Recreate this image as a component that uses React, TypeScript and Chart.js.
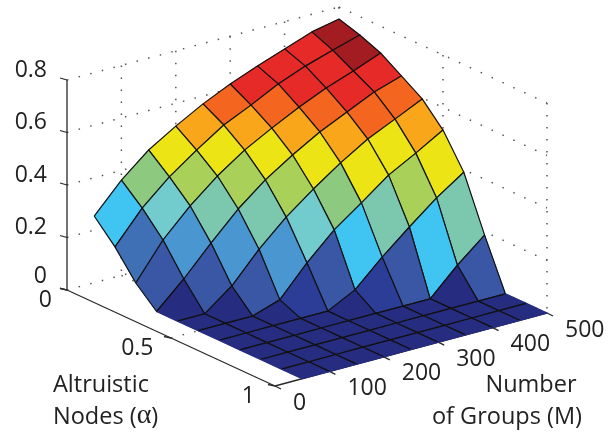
import React, { useEffect, useRef } from "react";
import { Chart, registerables } from "chart.js";

Chart.register(...registerables);

const mValues = [50, 100, 150, 200, 250, 300, 350, 400, 450, 500];
const alphaValues = [0, 0.1, 0.2, 0.3, 0.4, 0.5, 0.6, 0.7, 0.8, 0.9, 1];

const zAlpha00 = [0.254, 0.363, 0.45, 0.513, 0.57, 0.618, 0.659, 0.696, 0.733, 0.754];
const zAlpha01 = [0.173, 0.293, 0.384, 0.458, 0.526, 0.574, 0.627, 0.667, 0.7, 0.73];
const zAlpha02 = [0.072, 0.208, 0.31, 0.396, 0.467, 0.523, 0.575, 0.62, 0.657, 0.698];
const zAlpha03 = [0, 0.096, 0.205, 0.307, 0.39, 0.457, 0.517, 0.565, 0.614, 0.647];
const zAlpha04 = [0, 0, 0.078, 0.19, 0.285, 0.364, 0.436, 0.499, 0.547, 0.596];
const zAlpha05 = [0, 0, 0, 0.034, 0.147, 0.245, 0.32, 0.398, 0.454, 0.514];
const zAlpha06 = [0, 0, 0, 0, 0, 0.053, 0.15, 0.237, 0.32, 0.39];
const zAlpha07 = [0, 0, 0, 0, 0, 0, 0, 0, 0.1, 0.187];
const zAlpha08 = [0, 0, 0, 0, 0, 0, 0, 0, 0, 0];
const zAlpha09 = [0, 0, 0, 0, 0, 0, 0, 0, 0, 0];
const zAlpha10 = [0, 0, 0, 0, 0, 0, 0, 0, 0, 0];
const zGrid = [zAlpha00, zAlpha01, zAlpha02, zAlpha03, zAlpha04, zAlpha05, zAlpha06, zAlpha07, zAlpha08, zAlpha09, zAlpha10];

const zTicks = [0, 0.2, 0.4, 0.6, 0.8];
const alphaTicks = [0, 0.5, 1];
const mTicks = [0, 100, 200, 300, 400, 500];

const bandLimits = [0.01, 0.06, 0.16, 0.18, 0.225, 0.27, 0.3, 0.35, 0.375, 0.4, 0.505, 0.55, 0.616, 0.699];
const bandColors = ["#262c80", "#2c3d98", "#3a57a6", "#3f6fb5", "#4a96d0", "#40c4f1", "#72cbcd", "#7cc8ae", "#8dc97f", "#a9d15a", "#ece415", "#faa61a", "#f4661f", "#e62a27", "#a31c22"];

const AXIS = "#2a2a2a";
const DOT = "#555555";
const EDGE = "#111111";
const FONT = '"Open Sans"';

// Axonometric projection of (M, alpha, z) onto the chart's plane.
const project = (m: number, a: number, z: number) => ({
  x: 67 + (m / 500) * 272 + a * 208,
  y: 290 - (m / 500) * 73 + a * 96 - z * 262.5,
});

const colorFor = (z: number) => {
  let b = 0;
  while (b < bandLimits.length && z >= bandLimits[b]) b++;
  return bandColors[b];
};

function buildDatasets() {
  const sets: any[] = [];
  const line = (pts: { x: number; y: number }[], color: string, dotted: boolean) => {
    sets.push({
      data: pts,
      showLine: true,
      fill: false,
      pointRadius: 0,
      borderColor: color,
      borderWidth: dotted ? 1.5 : 1.3,
      borderDash: dotted ? [1.5, 10.5] : [],
      borderCapStyle: "butt",
    });
  };
  const dotted = (a: any[], b: any[]) => line([project(a[0], a[1], a[2]), project(b[0], b[1], b[2])], DOT, true);

  for (const z of zTicks) {
    dotted([0, 0, z], [500, 0, z]);
    dotted([500, 0, z], [500, 1, z]);
  }
  for (const m of mTicks.slice(1)) {
    dotted([m, 0, 0.8], [m, 0, 0]);
    if (m < 500) dotted([m, 0, 0], [m, 1, 0]);
  }
  for (const a of alphaTicks) {
    dotted([500, a, 0.8], [500, a, 0]);
    if (a === 0.5) dotted([0, a, 0], [500, a, 0]);
  }

  // axes
  line([project(0, 0, 0.8), project(0, 0, 0)], AXIS, false);
  line([project(0, 0, 0), project(0, 1, 0)], AXIS, false);
  line([project(0, 1, 0), project(500, 1, 0)], AXIS, false);
  for (const z of zTicks) {
    const p = project(0, 0, z);
    line([p, { x: p.x - 7, y: p.y - 2 }], AXIS, false);
  }
  for (const a of alphaTicks) {
    const p = project(0, a, 0);
    line([p, { x: p.x - 7, y: p.y - 1.5 }], AXIS, false);
  }
  for (const m of mTicks) {
    const p = project(m, 1, 0);
    line([p, { x: p.x + 6, y: p.y + 3 }], AXIS, false);
  }

  // surface, back to front: a filled cell, then its wire edges
  for (let k = 0; k < alphaValues.length - 1; k++) {
    for (let i = mValues.length - 2; i >= 0; i--) {
      const corners = [[k, i], [k, i + 1], [k + 1, i + 1], [k + 1, i], [k, i]];
      const pts = corners.map(([r, c]) => project(mValues[c], alphaValues[r], zGrid[r][c]));
      const fillColor = colorFor(zGrid[k][i]);
      const flat = (r1: number, c1: number, r2: number, c2: number) =>
        zGrid[r1][c1] === 0 && zGrid[r2][c2] === 0;
      const hidden = [
        false,
        i + 1 === mValues.length - 1 && flat(k, i + 1, k + 1, i + 1),
        k + 1 === alphaValues.length - 1,
        i === 0 && flat(k + 1, i, k, i),
      ];
      sets.push({
        data: pts,
        showLine: true,
        fill: "shape",
        backgroundColor: fillColor,
        borderColor: fillColor,
        borderWidth: 0.5,
        pointRadius: 0,
      });
      sets.push({
        data: pts,
        showLine: true,
        fill: false,
        borderColor: EDGE,
        borderWidth: 1.2,
        pointRadius: 0,
        borderJoinStyle: "round",
        segment: {
          borderColor: (c: any) => (hidden[c.p0DataIndex] ? fillColor : EDGE),
        },
      });
    }
  }
  sets.forEach((s, idx) => (s.order = -idx));
  return sets;
}

const textPlugin = {
  id: "axisText",
  afterDraw(chart: any) {
    const ctx = chart.ctx;
    const sx = chart.scales.x;
    const sy = chart.scales.y;
    const put = (t: string, x: number, y: number, align: CanvasTextAlign) => {
      ctx.textAlign = align;
      ctx.fillText(t, sx.getPixelForValue(x), sy.getPixelForValue(y));
    };
    ctx.save();
    ctx.fillStyle = "#222222";
    ctx.textBaseline = "middle";
    ctx.font = `23px ${FONT}`;
    for (const z of zTicks) {
      const p = project(0, 0, z);
      put(z === 0 ? "0" : z.toFixed(1), p.x - 20, p.y - (z === 0 ? 14 : 10), "right");
    }
    for (const a of alphaTicks) {
      const p = project(0, a, 0);
      put(String(a), p.x - 15 - 5 * a, p.y + 10, "right");
    }
    for (const m of mTicks) {
      const p = project(m, 1, 0);
      put(String(m), p.x + 18, p.y + 17, "left");
    }
    ctx.font = `23.5px ${FONT}`;
    put("Altruistic", 53, 385, "left");
    put("Nodes (", 53, 417, "left");
    const w = ctx.measureText("Nodes (").width;
    ctx.font = "28px 'Liberation Serif'";
    put("\u03b1", 53 + w, 416, "left");
    const wa = ctx.measureText("\u03b1").width;
    ctx.font = `23.5px ${FONT}`;
    put(")", 53 + w + wa, 417, "left");
    put("Number", 531, 385, "center");
    put("of Groups (M)", 507, 417, "center");
    ctx.restore();
  },
};

export default function App() {
  const ref = useRef<HTMLCanvasElement | null>(null);
  useEffect(() => {
    if (!ref.current) return;
    const chart = new Chart(ref.current, {
      type: "scatter",
      data: { datasets: buildDatasets() },
      options: {
        animation: false,
        responsive: false,
        layout: { padding: 0 },
        plugins: {
          legend: { display: false },
          tooltip: { enabled: false },
          filler: { drawTime: "beforeDatasetDraw" },
        } as any,
        scales: {
          x: { type: "linear", min: 0, max: 616, display: false },
          y: { type: "linear", min: 0, max: 436, reverse: true, display: false },
        },
      },
      plugins: [textPlugin],
    } as any);
    return () => chart.destroy();
  }, []);
  return (
    <div style={{ position: "fixed", left: 0, top: 0, width: 616, height: 436, background: "#fff" }}>
      <canvas ref={ref} width={616} height={436} style={{ display: "block" }} />
    </div>
  );
}
